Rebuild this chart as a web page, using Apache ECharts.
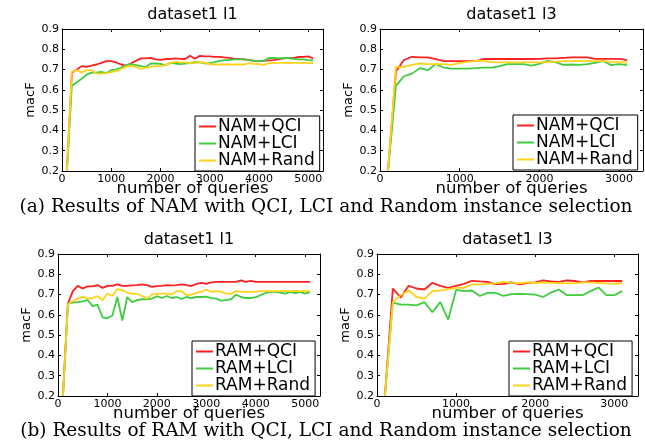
<!DOCTYPE html>
<html>
<head>
<meta charset="utf-8">
<script src="https://cdn.jsdelivr.net/npm/echarts@6/dist/echarts.min.js"></script>
<style>
html,body{margin:0;padding:0;background:#fff;}
#chart{width:645px;height:442px;}
</style>
</head>
<body>
<div id="chart"></div>
<script>
// ---- data ----
const queriesL1 = [100,200,300,400,500,600,700,800,900,1000,1100,1200,1300,1400,1500,1600,1700,1800,1900,2000,2100,2200,2300,2400,2500,2600,2700,2800,2900,3000,3100,3200,3300,3400,3500,3600,3700,3800,3900,4000,4100,4200,4300,4400,4500,4600,4700,4800,4900,5000,5100];
const queriesL3 = [100,200,300,400,500,600,700,800,900,1000,1100,1200,1300,1400,1500,1600,1700,1800,1900,2000,2100,2200,2300,2400,2500,2600,2700,2800,2900,3000,3100];

const namL1QCI = [0.2,0.685,0.70,0.717,0.713,0.72,0.725,0.733,0.742,0.742,0.735,0.725,0.72,0.73,0.743,0.755,0.755,0.758,0.75,0.748,0.752,0.752,0.755,0.753,0.752,0.768,0.753,0.768,0.765,0.765,0.763,0.763,0.76,0.758,0.753,0.752,0.75,0.748,0.743,0.743,0.743,0.745,0.747,0.752,0.755,0.757,0.757,0.762,0.763,0.765,0.755];
const namL1LCI = [0.2,0.62,0.637,0.655,0.675,0.685,0.685,0.688,0.683,0.697,0.70,0.71,0.722,0.727,0.722,0.717,0.712,0.73,0.73,0.728,0.722,0.733,0.73,0.727,0.73,0.733,0.737,0.735,0.73,0.732,0.737,0.743,0.747,0.747,0.75,0.75,0.75,0.747,0.743,0.743,0.743,0.757,0.757,0.755,0.757,0.757,0.753,0.75,0.75,0.747,0.745];
const namL1Rand = [0.2,0.69,0.697,0.685,0.697,0.697,0.68,0.68,0.683,0.687,0.693,0.703,0.713,0.72,0.713,0.703,0.71,0.713,0.717,0.717,0.722,0.733,0.738,0.735,0.735,0.732,0.733,0.737,0.733,0.727,0.725,0.725,0.725,0.725,0.725,0.725,0.725,0.732,0.728,0.727,0.723,0.732,0.733,0.733,0.733,0.733,0.733,0.733,0.733,0.732,0.732];

const namL3QCI = [0.2,0.69,0.747,0.763,0.76,0.76,0.752,0.742,0.742,0.742,0.742,0.742,0.752,0.752,0.752,0.752,0.752,0.752,0.752,0.753,0.755,0.755,0.758,0.76,0.76,0.76,0.753,0.753,0.753,0.753,0.747];
const namL3LCI = [0.2,0.62,0.667,0.68,0.707,0.697,0.727,0.71,0.705,0.705,0.705,0.707,0.71,0.71,0.717,0.727,0.727,0.727,0.72,0.728,0.743,0.737,0.723,0.725,0.723,0.727,0.733,0.743,0.722,0.727,0.722];
const namL3Rand = [0.2,0.713,0.713,0.723,0.73,0.727,0.727,0.727,0.723,0.733,0.738,0.743,0.743,0.737,0.735,0.735,0.735,0.735,0.735,0.735,0.737,0.738,0.742,0.742,0.742,0.742,0.742,0.742,0.738,0.737,0.733];

const ramL1QCI = [0.2,0.655,0.717,0.743,0.73,0.74,0.74,0.747,0.733,0.743,0.743,0.75,0.743,0.743,0.745,0.747,0.75,0.747,0.738,0.742,0.743,0.747,0.745,0.747,0.75,0.747,0.742,0.753,0.758,0.753,0.76,0.763,0.763,0.763,0.763,0.763,0.77,0.763,0.768,0.763,0.763,0.763,0.763,0.763,0.763,0.763,0.763,0.763,0.763,0.763,0.763];
const ramL1LCI = [0.2,0.655,0.66,0.663,0.667,0.673,0.643,0.65,0.588,0.583,0.597,0.688,0.572,0.688,0.663,0.673,0.677,0.677,0.68,0.692,0.683,0.693,0.683,0.688,0.678,0.688,0.683,0.688,0.688,0.69,0.683,0.68,0.67,0.673,0.677,0.7,0.688,0.683,0.683,0.687,0.697,0.708,0.713,0.713,0.71,0.705,0.713,0.707,0.713,0.705,0.713];
const ramL1Rand = [0.2,0.652,0.667,0.68,0.69,0.68,0.683,0.692,0.672,0.705,0.693,0.727,0.722,0.71,0.703,0.705,0.693,0.68,0.7,0.703,0.705,0.705,0.7,0.717,0.717,0.697,0.7,0.71,0.713,0.725,0.713,0.717,0.713,0.705,0.703,0.717,0.715,0.713,0.713,0.715,0.717,0.717,0.717,0.717,0.717,0.717,0.717,0.717,0.717,0.717,0.717];

const ramL3QCI = [0.2,0.73,0.685,0.743,0.73,0.725,0.758,0.743,0.733,0.743,0.753,0.768,0.765,0.763,0.75,0.753,0.76,0.75,0.757,0.76,0.77,0.765,0.763,0.77,0.767,0.76,0.768,0.767,0.767,0.768,0.767];
const ramL3LCI = [0.2,0.66,0.65,0.65,0.647,0.663,0.613,0.663,0.577,0.723,0.717,0.72,0.693,0.708,0.708,0.693,0.702,0.703,0.702,0.7,0.688,0.71,0.725,0.697,0.697,0.697,0.717,0.735,0.697,0.697,0.717];
const ramL3Rand = [0.2,0.663,0.697,0.72,0.688,0.68,0.717,0.72,0.727,0.733,0.733,0.75,0.75,0.753,0.755,0.763,0.758,0.755,0.76,0.757,0.76,0.758,0.757,0.755,0.755,0.76,0.76,0.758,0.755,0.753,0.757];

const panelTitles = ['dataset1 l1','dataset1 l3','dataset1 l1','dataset1 l3'];
const namNames = ['NAM+QCI','NAM+LCI','NAM+Rand'];
const ramNames = ['RAM+QCI','RAM+LCI','RAM+Rand'];
const captionA = '(a) Results of NAM with QCI, LCI and Random instance selection';
const captionB = '(b) Results of RAM with QCI, LCI and Random instance selection';

// ---- layout / style ----
const FONT = 'DejaVu Sans';
const colors = ['#ff2020','#3fcc3f','#ffd21a'];
const panels = [
  {grid:{left:62, top:29, width:261, height:142}, xMax:5300, xs:queriesL1, ys:[namL1QCI,namL1LCI,namL1Rand], names:namNames, legend:{left:195, top:116}},
  {grid:{left:380, top:29, width:263, height:142}, xMax:3300, xs:queriesL3, ys:[namL3QCI,namL3LCI,namL3Rand], names:namNames, legend:{left:513, top:115}},
  {grid:{left:58, top:254, width:262, height:142}, xMax:5300, xs:queriesL1, ys:[ramL1QCI,ramL1LCI,ramL1Rand], names:ramNames, legend:{left:192, top:341}},
  {grid:{left:377, top:254, width:261, height:142}, xMax:3300, xs:queriesL3, ys:[ramL3QCI,ramL3LCI,ramL3Rand], names:ramNames, legend:{left:509, top:341}}
];

const option = {
  animation:false,
  backgroundColor:'#fff',
  title:[], grid:[], xAxis:[], yAxis:[], series:[], legend:[]
};

const tickStyle = {show:true, inside:true, length:3, lineStyle:{color:'#000', width:1}};
const lineStyle = {show:true, onZero:false, lineStyle:{color:'#000', width:1}};

panels.forEach((p, i) => {
  option.grid.push(Object.assign({containLabel:false}, p.grid));
  const cx = p.grid.left + p.grid.width/2;
  option.title.push({text:panelTitles[i], left:cx, top:p.grid.top-22, textAlign:'center', padding:0,
    textStyle:{fontFamily:FONT, fontSize:16, fontWeight:'normal', color:'#000'}});
  const xb = option.xAxis.length;
  option.xAxis.push({type:'value', gridIndex:i, position:'bottom', min:0, max:p.xMax, interval:1000,
    axisLine:lineStyle, axisTick:tickStyle, splitLine:{show:false},
    axisLabel:{show:true, margin:3, showMaxLabel:false, color:'#000', fontFamily:FONT, fontSize:11, formatter:v=>String(v)},
    name:'number of queries', nameLocation:'middle', nameGap:9, nameMoveOverlap:false,
    nameTextStyle:{fontFamily:FONT, fontSize:16.5, color:'#000', verticalAlign:'top', lineHeight:17}});
  option.xAxis.push({type:'value', gridIndex:i, position:'top', min:0, max:p.xMax, interval:1000,
    axisLine:lineStyle, axisTick:tickStyle, splitLine:{show:false}, axisLabel:{show:false}});
  const yl = option.yAxis.length;
  option.yAxis.push({type:'value', gridIndex:i, position:'left', min:0.2, max:0.9, interval:0.1,
    axisLine:lineStyle, axisTick:tickStyle, splitLine:{show:false},
    axisLabel:{show:true, margin:3, color:'#000', fontFamily:FONT, fontSize:11, formatter:v=>v.toFixed(1)},
    name:'macF', nameLocation:'middle', nameGap:25, nameMoveOverlap:false,
    nameTextStyle:{fontFamily:FONT, fontSize:13, color:'#000'}});
  option.yAxis.push({type:'value', gridIndex:i, position:'right', min:0.2, max:0.9, interval:0.1,
    axisLine:lineStyle, axisTick:tickStyle, splitLine:{show:false}, axisLabel:{show:false}});
  p.ys.forEach((vals, k) => {
    option.series.push({type:'line', name:p.names[k], xAxisIndex:xb, yAxisIndex:yl,
      data:p.xs.map((x, j) => [x, vals[j]]), symbol:'none', clip:true,
      lineStyle:{color:colors[k], width:1.8}, itemStyle:{color:colors[k]}});
  });
  option.legend.push({data:p.names, orient:'vertical', left:p.legend.left, top:p.legend.top,
    padding:[2,5,2,4], itemGap:0, itemWidth:17, itemHeight:2, icon:'rect',
    backgroundColor:'#fff', borderColor:'#000', borderWidth:1, borderRadius:0,
    textStyle:{fontFamily:FONT, fontSize:17, color:'#000', lineHeight:16.5, padding:[0,0,0,-3]}});
});

option.title.push({text:captionA, left:326, top:198, textAlign:'center', padding:0,
  textStyle:{fontFamily:'DejaVu Serif', fontSize:18.5, fontWeight:'normal', color:'#000'}});
option.title.push({text:captionB, left:326, top:422, textAlign:'center', padding:0,
  textStyle:{fontFamily:'DejaVu Serif', fontSize:18.5, fontWeight:'normal', color:'#000'}});

const chart = echarts.init(document.getElementById('chart'), null, {renderer:'canvas'});
chart.setOption(option);
</script>
</body>
</html>
